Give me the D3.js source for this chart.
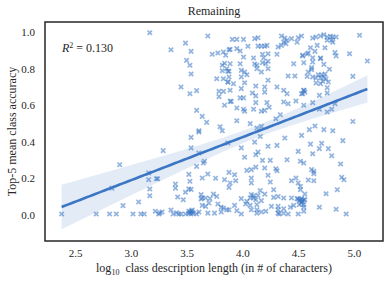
<!DOCTYPE html>
<html>
<head>
<meta charset="utf-8">
<script src="https://cdn.jsdelivr.net/npm/d3@7"></script>
<style>
  body { margin: 0; background: #fff; }
  text { font-family: "Liberation Serif", "DejaVu Serif", serif; fill: #262626; }
</style>
</head>
<body>
<div id="container"></div>
<script>
/* DATA */
const chartTitle = "Remaining";
const r2Value = 0.130;
const xTicks = [2.5, 3.0, 3.5, 4.0, 4.5, 5.0];
const yTicks = [0.0, 0.2, 0.4, 0.6, 0.8, 1.0];

// [log10 description length, top-5 mean class accuracy]
const points = [
  // short descriptions
  [2.38,0.004],[2.69,0.004],[2.81,0.004],[2.87,0.004],[2.83,0.146],[2.90,0.274],[2.93,0.050],[3.02,0.004],
  [3.07,0.070],[3.09,0.004],[3.12,0.004],[3.16,0.229],[3.16,0.192],[3.17,0.141],[3.17,0.104],[3.17,0.997],
  [3.22,0.019],[3.23,0.197],[3.24,0.197],[3.25,0.004],[3.26,0.010],[3.28,0.015],[3.29,0.351],
  // 3.3 - 3.9, upper
  [3.36,0.904],[3.45,0.700],[3.49,0.940],[3.50,0.846],[3.53,0.819],[3.53,0.663],[3.54,0.895],[3.54,0.771],
  [3.59,0.680],[3.59,0.572],[3.61,0.460],[3.64,0.539],[3.68,0.506],[3.69,0.979],[3.73,0.879],[3.77,0.745],
  [3.78,0.886],[3.79,0.676],[3.79,0.647],[3.80,0.482],[3.82,0.819],[3.82,0.789],[3.82,0.460],[3.83,0.892],
  [3.83,0.745],[3.83,0.676],[3.84,0.830],[3.84,0.600],[3.86,0.800],[3.87,0.727],[3.88,0.904],[3.88,0.786],
  [3.89,0.621],
  // 3.3 - 3.9, lower
  [3.52,0.221],[3.53,0.183],[3.54,0.424],[3.54,0.366],[3.54,0.139],[3.59,0.265],[3.61,0.453],[3.61,0.338],
  [3.64,0.201],[3.65,0.283],[3.66,0.293],[3.69,0.223],[3.76,0.200],[3.84,0.192],[3.87,0.393],[3.40,0.168],
  [3.40,0.146],[3.52,0.141],[3.49,0.123],[3.42,0.097],[3.47,0.082],[3.63,0.110],[3.64,0.092],[3.67,0.092],
  [3.63,0.086],[3.71,0.088],[3.74,0.113],[3.77,0.100],[3.70,0.064],[3.64,0.051],[3.67,0.046],[3.78,0.059],
  [3.81,0.041],[3.83,0.037],
  [3.36,0.026],[3.38,0.004],[3.41,0.011],[3.43,0.004],[3.45,0.004],[3.49,0.004],[3.52,0.008],[3.52,0.019],
  [3.53,0.012],[3.54,0.004],[3.54,0.020],[3.55,0.015],[3.55,0.025],[3.56,0.009],[3.59,0.004],[3.61,0.015],
  [3.69,0.009],[3.75,0.009],[3.81,0.015],
  // 3.85 - 4.55, upper
  [3.91,0.961],[3.95,0.961],[4.01,0.961],[4.11,0.965],[4.14,0.970],[4.35,0.979],[4.38,0.968],[4.40,0.956],
  [4.37,0.946],[4.39,0.937],[4.35,0.928],[4.32,0.919],[4.44,0.965],[4.50,0.970],[4.49,0.946],
  [3.89,0.906],[3.95,0.910],[3.98,0.897],[4.05,0.923],[4.14,0.924],[4.17,0.924],[4.20,0.923],[4.22,0.928],
  [3.85,0.874],[4.01,0.864],[4.10,0.859],[4.18,0.879],[4.23,0.882],[4.19,0.859],[4.31,0.879],
  [3.89,0.827],[3.98,0.827],[4.11,0.826],[4.13,0.819],[4.18,0.833],[4.21,0.827],[4.23,0.841],[4.46,0.827],
  [4.54,0.874],[3.87,0.786],[3.99,0.791],[4.02,0.782],[4.13,0.800],[4.17,0.782],[4.23,0.800],
  [3.88,0.755],[3.99,0.755],[4.04,0.767],[3.87,0.727],[3.92,0.718],[4.02,0.723],[4.12,0.705],[4.20,0.700],
  [4.23,0.737],[4.41,0.760],[4.47,0.760],[4.31,0.700],[4.37,0.682],[4.40,0.663],[4.55,0.682],[4.54,0.663],
  [3.89,0.682],[3.99,0.691],[4.01,0.640],[4.09,0.667],[4.12,0.651],[4.20,0.672],
  [3.90,0.621],[3.98,0.640],[4.12,0.614],[4.22,0.614],[4.41,0.608],[4.48,0.623],[4.37,0.618],
  [3.95,0.585],[4.01,0.578],[4.02,0.567],[4.10,0.578],[4.17,0.567],[4.20,0.572],[4.24,0.589],
  [3.95,0.515],[4.07,0.499],[4.13,0.475],[4.17,0.484],[4.30,0.526],[4.34,0.548],
  // 3.85 - 4.55, lower
  [3.99,0.366],[4.11,0.398],[4.16,0.429],[4.38,0.420],[4.14,0.343],[4.12,0.329],[4.23,0.375],[4.31,0.380],
  [4.50,0.347],[4.02,0.315],[4.18,0.298],[4.25,0.298],[4.40,0.301],[4.52,0.293],[4.55,0.283],[4.04,0.243],
  [4.08,0.247],[4.12,0.261],[4.20,0.256],[4.30,0.252],[4.31,0.241],[3.88,0.232],[3.93,0.219],[4.23,0.216],
  [4.48,0.201],[4.44,0.186],[4.50,0.174],[4.08,0.201],[4.08,0.174],[3.89,0.174],[3.94,0.186],[3.88,0.150],
  [4.25,0.179],[4.16,0.132],[4.20,0.113],[4.28,0.137],[4.14,0.106],[4.10,0.104],[4.08,0.110],[4.07,0.092],
  [4.04,0.073],[4.10,0.092],[4.12,0.082],[4.17,0.077],[3.99,0.088],[4.28,0.095],[4.32,0.100],[4.37,0.092],
  [4.44,0.092],[4.49,0.088],[4.52,0.082],[4.55,0.082],[3.93,0.051],[4.03,0.059],[4.07,0.051],[4.13,0.055],
  [4.26,0.046],[4.32,0.046],[4.32,0.027],[4.37,0.033],[4.43,0.041],[4.46,0.051],[4.51,0.055],[4.53,0.064],
  [4.55,0.041],[3.86,0.027],[3.88,0.027],[3.95,0.022],[3.99,0.004],[4.08,0.027],[4.13,0.027],[4.13,0.009],
  [4.17,0.015],[4.21,0.019],[4.32,0.009],[4.33,0.004],[4.37,0.009],[4.41,0.004],[4.50,0.004],[4.50,0.086],
  [4.51,0.077],[4.53,0.088],[4.54,0.073],[4.56,0.082],
  // long descriptions, lower
  [4.60,0.466],[4.73,0.466],[4.81,0.460],[4.53,0.435],[4.61,0.387],[4.71,0.391],[4.69,0.362],[4.77,0.362],
  [4.90,0.406],[4.63,0.334],[4.80,0.323],[4.88,0.278],[4.62,0.247],[4.64,0.238],[4.64,0.225],[4.59,0.190],
  [4.64,0.186],[4.89,0.205],[4.91,0.192],[4.85,0.137],[4.56,0.113],[4.75,0.115],[4.53,0.073],[4.55,0.055],
  [4.69,0.041],[4.84,0.030],[4.93,0.004],[4.55,0.019],[4.52,0.155],[4.52,0.137],
  // long descriptions, upper
  [4.53,0.979],[4.63,0.968],[4.66,0.974],[4.70,0.979],[4.73,0.986],[4.76,0.974],[4.79,0.977],[4.81,0.974],
  [4.84,0.974],[4.76,0.956],[4.80,0.956],[4.81,0.946],[5.05,0.983],[4.61,0.915],[4.67,0.928],[4.74,0.915],
  [4.58,0.881],[4.54,0.870],[4.59,0.886],[4.65,0.895],[4.63,0.860],[4.70,0.859],[4.83,0.888],[4.84,0.870],
  [4.96,0.882],[4.55,0.833],[4.63,0.837],[4.70,0.855],[4.73,0.824],[4.62,0.806],[4.62,0.795],[5.12,0.842],
  [4.78,0.797],[4.59,0.782],[4.58,0.758],[4.63,0.755],[4.68,0.767],[4.71,0.767],[4.74,0.771],[4.66,0.749],
  [4.70,0.749],[4.73,0.753],[4.75,0.744],[4.99,0.758],[4.66,0.722],[4.70,0.718],[4.72,0.731],[4.77,0.727],
  [4.76,0.696],[4.55,0.682],[4.56,0.672],[4.53,0.663],[4.69,0.654],[4.76,0.667],[4.55,0.600],[4.63,0.614],
  [4.69,0.578],[4.76,0.563],[4.80,0.578],[4.83,0.608],[4.99,0.511],[4.65,0.486]
];

/* CONSTANTS */
const width = 391, height = 284,
  margin = { top: 22, bottom: 43, left: 45, right: 8 };
const color = "#3a76c4";

/* SCALES */
const xScale = d3.scaleLinear()
  .domain([2.231, 5.26])
  .range([margin.left, width - margin.right]);

const yScale = d3.scaleLinear()
  .domain([-0.144, 1.056])
  .range([height - margin.bottom, margin.top]);

/* REGRESSION + 95% CI */
const n = points.length;
const xm = d3.mean(points, d => d[0]);
const ym = d3.mean(points, d => d[1]);
const sxx = d3.sum(points, d => (d[0] - xm) ** 2);
const sxy = d3.sum(points, d => (d[0] - xm) * (d[1] - ym));
const slope = sxy / sxx;
const intercept = ym - slope * xm;
const sse = d3.sum(points, d => (d[1] - (intercept + slope * d[0])) ** 2);
const s = Math.sqrt(sse / (n - 2));
const [xmin, xmax] = d3.extent(points, d => d[0]);
const grid = d3.range(0, 101).map(i => xmin + (xmax - xmin) * i / 100);
const fit = grid.map(x => {
  const yhat = intercept + slope * x;
  const se = s * Math.sqrt(1 / n + (x - xm) ** 2 / sxx);
  return { x, y: yhat, lo: yhat - 1.97 * se, hi: yhat + 1.97 * se };
});

/* SVG */
const svg = d3.select("#container")
  .append("svg")
  .attr("width", width)
  .attr("height", height);

// points
const k = 2.2;
svg.append("g")
  .selectAll("path")
  .data(points)
  .join("path")
  .attr("d", d => {
    const px = xScale(d[0]), py = yScale(d[1]);
    return `M${px - k},${py - k}L${px + k},${py + k}M${px - k},${py + k}L${px + k},${py - k}`;
  })
  .attr("stroke", color)
  .attr("stroke-width", 1.7)
  .attr("opacity", 0.55)
  .attr("fill", "none");

// band
svg.append("path")
  .datum(fit)
  .attr("d", d3.area().x(d => xScale(d.x)).y0(d => yScale(d.lo)).y1(d => yScale(d.hi)))
  .attr("fill", color)
  .attr("opacity", 0.15);

// fit line
svg.append("path")
  .datum(fit)
  .attr("d", d3.line().x(d => xScale(d.x)).y(d => yScale(d.y)))
  .attr("fill", "none")
  .attr("stroke", color)
  .attr("stroke-width", 2.6);

// frame
svg.append("rect")
  .attr("x", margin.left)
  .attr("y", margin.top)
  .attr("width", width - margin.left - margin.right)
  .attr("height", height - margin.top - margin.bottom)
  .attr("fill", "none")
  .attr("stroke", "#262626")
  .attr("stroke-width", 1.5);

// axes (labels only, no tick marks)
const xAxis = d3.axisBottom(xScale).tickValues(xTicks).tickFormat(d3.format(".1f")).tickSize(0).tickPadding(8);
svg.append("g")
  .attr("transform", `translate(0,${height - margin.bottom})`)
  .call(xAxis)
  .call(g => g.select(".domain").remove())
  .selectAll("text")
  .style("font-family", "Liberation Serif, serif")
  .style("font-size", "11px")
  .attr("fill", "#262626");

const yAxis = d3.axisLeft(yScale).tickValues(yTicks).tickFormat(d3.format(".1f")).tickSize(0).tickPadding(10);
svg.append("g")
  .attr("transform", `translate(${margin.left},0)`)
  .call(yAxis)
  .call(g => g.select(".domain").remove())
  .selectAll("text")
  .style("font-family", "Liberation Serif, serif")
  .style("font-size", "11px")
  .attr("fill", "#262626");

// title
svg.append("text")
  .attr("x", (margin.left + width - margin.right) / 2)
  .attr("y", 15)
  .attr("text-anchor", "middle")
  .style("font-size", "12px")
  .text(chartTitle);

// x label
const xl = svg.append("text")
  .attr("x", (margin.left + width - margin.right) / 2)
  .attr("y", 272)
  .attr("text-anchor", "middle")
  .style("font-size", "12px");
xl.append("tspan").text("log");
xl.append("tspan").attr("dy", 3).style("font-size", "8px").text("10");
xl.append("tspan").attr("dy", -3).text("\u00a0 class description length (in # of characters)");

// y label
svg.append("text")
  .attr("transform", `translate(16,${(margin.top + height - margin.bottom) / 2}) rotate(-90)`)
  .attr("text-anchor", "middle")
  .style("font-size", "12px")
  .text("Top-5 mean class accuracy");

// R^2 annotation
const r2 = svg.append("text")
  .attr("x", 62)
  .attr("y", 52)
  .style("font-size", "12px");
r2.append("tspan").style("font-style", "italic").text("R");
r2.append("tspan").attr("dy", -4).style("font-size", "8px").text("2");
r2.append("tspan").attr("dy", 4).text(` = ${r2Value.toFixed(3)}`);
</script>
</body>
</html>
